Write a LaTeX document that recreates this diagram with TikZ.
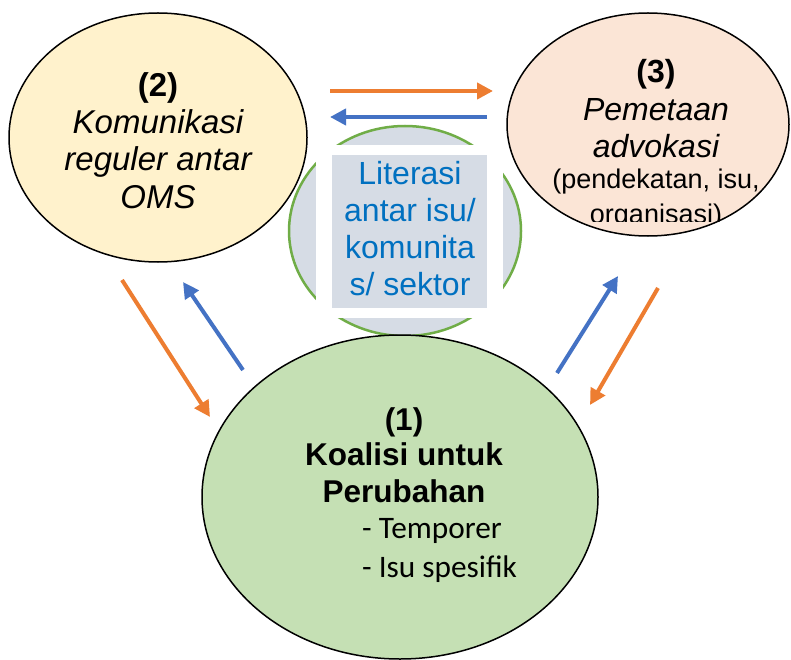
\documentclass[tikz,border=0pt]{standalone}
\usepackage{fontspec}
\setmainfont{Liberation Sans}
\newfontfamily\calfont{Carlito}
\usetikzlibrary{arrows.meta,shapes.geometric}
\definecolor{corange}{HTML}{ED7D31}
\definecolor{cblue}{HTML}{4472C4}
\definecolor{cgreenline}{HTML}{70AD47}
\definecolor{cgrey}{HTML}{D6DCE5}
\definecolor{cyellow}{HTML}{FFF2CC}
\definecolor{cpeach}{HTML}{FBE5D6}
\definecolor{cgreen}{HTML}{C5E0B4}
\definecolor{ctextblue}{HTML}{0070C0}
\begin{document}
\begin{tikzpicture}[x=1pt,y=-1pt,
  bubble/.style={ellipse,draw=black,line width=1.5pt,inner sep=0pt},
  flow/.style={line width=4pt,-{Triangle[length=16pt,width=16pt]}},
  txt/.style={inner sep=0pt,anchor=base},
  tbold/.style={txt,font=\fontsize{33}{37}\selectfont\bfseries},
  titl/.style={txt,font=\fontsize{33}{37}\selectfont\itshape},
  tthree/.style={txt,font=\fontsize{32}{37}\selectfont\itshape},
  tsmall/.style={txt,font=\fontsize{27}{31}\selectfont},
  tlit/.style={txt,font=\fontsize{32}{37}\selectfont,text=ctextblue},
  tone/.style={txt,font=\fontsize{31.5}{37}\selectfont\bfseries},
  tcal/.style={inner sep=0pt,anchor=base west,font=\fontsize{31.3}{37}\selectfont\calfont}]
\clip (0,0) rectangle (791,660);
\fill[white] (0,0) rectangle (791,660);

% bubbles
\node[bubble,fill=cyellow,minimum width=298pt,minimum height=249pt] (oms) at (158,137.5) {};
\node[bubble,fill=cpeach,minimum width=282pt,minimum height=223pt] (map) at (648,124.5) {};
\node[ellipse,draw=cgreenline,line width=2.5pt,fill=cgrey,inner sep=0pt,minimum width=232pt,minimum height=210pt] (lit) at (405,231) {};
\fill[white] (316,145) rectangle (503,318);
\fill[cgrey] (332,155) rectangle (487,308);
\node[bubble,fill=cgreen,minimum width=396pt,minimum height=324pt] (koal) at (400,497) {};

% text of (2)
\node[tbold] (t2a) at (158,97) {(2)};
\node[titl] (t2b) at (158,134) {Komunikasi};
\node[titl] (t2c) at (158,171) {reguler antar};
\node[titl] (t2d) at (158,208) {OMS};

% text of (3)
\node[tbold,font=\fontsize{32}{37}\selectfont\bfseries] (t3a) at (656,83) {(3)};
\node[tthree] (t3b) at (656,121) {Pemetaan};
\node[tthree] (t3c) at (656,158) {advokasi};
\node[tsmall] (t3d) at (656,189) {(pendekatan, isu,};
\begin{scope}
  \clip (500,0) rectangle (791,221);
  \node[tsmall] (t3e) at (656,223) {organisasi)};
\end{scope}

% literasi text
\node[tlit] (tla) at (410,185) {Literasi};
\node[tlit] (tlb) at (410,222) {antar isu/};
\node[tlit] (tlc) at (410,258) {komunita};
\node[tlit] (tld) at (410,295) {s/ sektor};

% text of (1)
\node[tone] (t1a) at (404,430) {(1)};
\node[tone] (t1b) at (404,465) {Koalisi untuk};
\node[tone] (t1c) at (404,502) {Perubahan};
\node[tcal] (t1d) at (362,538) {- Temporer};
\node[tcal] (t1e) at (362,577) {- Isu spesifik};

% arrow end points
\coordinate (a1s) at (330,91);  \coordinate (a1e) at (493,91);
\coordinate (a2s) at (487,117); \coordinate (a2e) at (330,117);
\coordinate (a3s) at (122,280); \coordinate (a3e) at (210,417);
\coordinate (a4s) at (243,370); \coordinate (a4e) at (183,282);
\coordinate (a5s) at (557,373); \coordinate (a5e) at (618,276);
\coordinate (a6s) at (658,288); \coordinate (a6e) at (590,405);

\draw[flow,corange] (a1s) -- (a1e);
\draw[flow,cblue] (a2s) -- (a2e);
\draw[flow,corange] (a3s) -- (a3e);
\draw[flow,cblue] (a4s) -- (a4e);
\draw[flow,cblue] (a5s) -- (a5e);
\draw[flow,corange] (a6s) -- (a6e);
\end{tikzpicture}
\end{document}
